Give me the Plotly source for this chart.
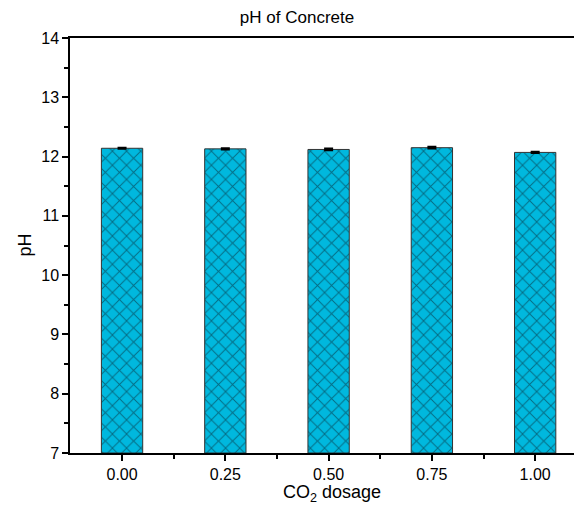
import plotly.graph_objects as go

dosage = [0.00, 0.25, 0.50, 0.75, 1.00]
ph_values = [12.14, 12.13, 12.12, 12.15, 12.07]
ph_errors = [0.01, 0.01, 0.015, 0.015, 0.01]
x_tick_labels = ["0.00", "0.25", "0.50", "0.75", "1.00"]
y_ticks = [7, 8, 9, 10, 11, 12, 13, 14]

fig = go.Figure()
fig.add_trace(go.Bar(
    x=dosage, y=[v - 7 for v in ph_values], base=7,
    width=0.1,
    marker=dict(
        color="#00B8DE",
        line=dict(color="#333333", width=1),
        pattern=dict(shape="x", fgcolor="#0a1e28", bgcolor="#00B8DE", size=10, solidity=0.18),
    ),
    error_y=dict(type="data", array=ph_errors, color="black", thickness=2, width=4.5),
    showlegend=False,
))

font = "Liberation Sans, Arial, sans-serif"
fig.update_layout(
    width=574, height=506,
    margin=dict(l=70, r=0, t=38, b=53, autoexpand=False),
    paper_bgcolor="white", plot_bgcolor="white",
    font=dict(family=font, color="black"),
    title=dict(text="pH of Concrete", x=0.5175, xanchor="center", y=0.966, yanchor="middle",
               font=dict(size=17, family=font, color="black")),
    xaxis=dict(
        range=[-0.126, 1.094], tickvals=dosage, ticktext=x_tick_labels,
        showline=True, linecolor="black", linewidth=1.5, mirror=True,
        ticks="outside", ticklen=6, tickwidth=1.5, tickcolor="black",
        minor=dict(tickvals=[0.125, 0.375, 0.625, 0.875], ticks="outside", ticklen=4, tickwidth=1.5, tickcolor="black"),
        showgrid=False, zeroline=False, automargin=False,
        tickfont=dict(size=16, family=font, color="black"),
    ),
    yaxis=dict(
        range=[7, 14], tickvals=y_ticks,
        showline=True, linecolor="black", linewidth=1.5, mirror=False,
        ticks="outside", ticklen=6, tickwidth=1.5, tickcolor="black",
        minor=dict(dtick=0.5, ticks="outside", ticklen=4, tickwidth=1.5, tickcolor="black"),
        showgrid=False, zeroline=False, automargin=False,
        tickfont=dict(size=16, family=font, color="black"),
    ),
    annotations=[
        dict(text="CO<sub>2</sub> dosage", xref="paper", yref="paper", x=0.5, y=0,
             xanchor="center", yanchor="middle", xshift=10, yshift=-40, showarrow=False,
             font=dict(size=18, family=font, color="black")),
        dict(text="pH", xref="paper", yref="paper", x=0, y=0.5, textangle=-90,
             xanchor="center", yanchor="middle", xshift=-46, showarrow=False,
             font=dict(size=18, family=font, color="black")),
    ],
)

fig.write_html("out.html", config={"displayModeBar": False},
               post_script="document.body.style.margin='0';")
